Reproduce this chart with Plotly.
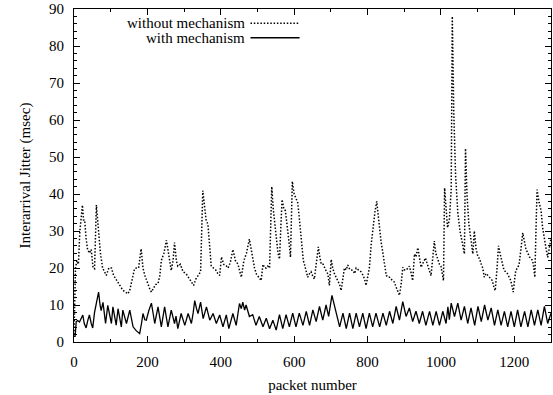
import plotly.graph_objects as go

# ---- data ----
without_x = [0, 4, 8, 12, 16, 20, 23, 26, 29, 33, 37, 42, 47, 52, 56, 61, 66, 72, 78, 84, 88, 95, 102, 108, 114, 120, 126, 133, 140, 147, 152, 158, 165, 170, 176, 183, 188, 193, 200, 206, 211, 216, 222, 229, 234, 238, 245, 252, 258, 265, 270, 274, 279, 283, 290, 297, 306, 312, 319, 326, 332, 338, 345, 351, 356, 360, 365, 370, 374, 380, 386, 392, 397, 402, 408, 415, 420, 426, 433, 440, 447, 452, 456, 463, 470, 478, 483, 487, 492, 497, 503, 510, 515, 520, 524, 528, 533, 536, 539, 543, 547, 553, 556, 560, 563, 567, 572, 576, 579, 582, 586, 590, 595, 600, 605, 610, 614, 620, 625, 628, 633, 637, 642, 646, 650, 655, 660, 666, 670, 674, 679, 683, 688, 692, 696, 701, 705, 710, 715, 719, 724, 728, 733, 737, 742, 746, 752, 760, 765, 769, 775, 782, 788, 792, 796, 801, 805, 810, 816, 820, 825, 829, 832, 837, 841, 846, 851, 856, 860, 864, 869, 873, 878, 883, 887, 892, 896, 900, 905, 910, 914, 918, 923, 928, 932, 937, 941, 946, 952, 958, 963, 969, 973, 978, 982, 986, 991, 996, 1000, 1004, 1007, 1010, 1014, 1018, 1023, 1028, 1031, 1035, 1040, 1046, 1052, 1058, 1064, 1067, 1071, 1076, 1082, 1087, 1091, 1096, 1101, 1105, 1110, 1114, 1118, 1123, 1128, 1132, 1140, 1144, 1148, 1153, 1157, 1160, 1163, 1168, 1172, 1177, 1181, 1186, 1190, 1194, 1197, 1201, 1204, 1209, 1213, 1218, 1223, 1228, 1232, 1237, 1241, 1246, 1250, 1253, 1256, 1259, 1262, 1267, 1273, 1277, 1282, 1287, 1291, 1296, 1300]
without_y = [2, 20, 22, 21, 30, 34, 37, 33, 33, 28, 25, 24, 25, 20, 19.8, 37, 30, 24, 20, 19, 18, 20, 20, 18, 17, 15.8, 15, 14, 13.5, 13, 14, 17, 19.8, 20, 20, 25.2, 20, 18, 16, 14.5, 13.5, 14.5, 15.5, 15.8, 18, 22, 24, 27.5, 23, 19.3, 22, 26.9, 22, 20.5, 21, 19, 18.4, 17.5, 16.5, 15.3, 17, 18, 19, 40.9, 36, 33, 31.8, 25, 20.6, 20, 19.5, 18.5, 18, 23, 21, 20.6, 20, 21.5, 25, 22, 21, 19, 17.5, 22, 24, 27.8, 25, 22.5, 20, 18.4, 17.5, 16.6, 21, 20, 20, 20.5, 20, 30, 42, 36, 32.7, 27, 24, 22.4, 30, 38.5, 36, 35.5, 33, 31, 27, 22.9, 43.4, 40, 39, 37.6, 33.5, 27, 22, 21, 19, 17.5, 18.5, 19, 18, 17, 21, 25.7, 23, 21, 21, 20, 19, 18.4, 15.3, 22.3, 20, 18.4, 17.5, 16.6, 15.5, 13.9, 17, 20, 19.5, 20.8, 19.5, 19.4, 18.5, 20, 19.5, 19, 18, 17, 15.3, 18, 20, 26.4, 31.8, 35, 38, 34, 30, 27, 24.6, 21, 18, 17.5, 17.5, 17, 16.5, 16.2, 14.8, 13.5, 12.6, 16, 20.2, 19.5, 19.4, 20, 20.5, 19, 16.6, 23.8, 23, 25.5, 23, 20.2, 21.5, 22.7, 21, 19, 17.9, 23, 27.3, 24, 22.3, 21, 20.5, 18.4, 16.6, 41.6, 35, 30.9, 33, 41.2, 88, 62, 45, 35, 30, 26.5, 23.8, 52.3, 40, 32, 27, 23.8, 30, 25, 23, 22.6, 21, 20, 17.5, 18.5, 18, 17.5, 16.6, 15, 13.9, 20, 26, 24.5, 22.9, 21, 19.4, 19, 18.5, 17.5, 16.7, 15, 13.5, 17, 19.4, 20, 21, 25, 29.5, 27, 25, 24, 23, 22.5, 22, 20, 17.5, 30, 41.2, 38, 35.5, 31, 27.3, 25, 22.9, 26, 28]

with_x = [0, 3, 6, 10, 15, 20, 24, 28, 33, 38, 42, 47, 51, 56, 61, 64, 67, 71, 74, 79, 83, 86, 92, 97, 102, 106, 111, 115, 120, 125, 129, 133, 138, 143, 152, 156, 161, 170, 179, 184, 188, 193, 197, 204, 211, 216, 220, 229, 238, 247, 256, 265, 274, 278, 283, 292, 302, 311, 320, 325, 329, 334, 338, 345, 352, 361, 370, 379, 388, 397, 406, 415, 422, 433, 438, 442, 451, 456, 460, 465, 469, 478, 487, 496, 505, 515, 524, 533, 542, 551, 560, 569, 578, 587, 596, 605, 614, 624, 633, 642, 651, 660, 669, 678, 687, 694, 703, 709, 714, 724, 733, 742, 751, 760, 769, 778, 787, 796, 805, 814, 823, 833, 842, 851, 860, 869, 878, 887, 896, 905, 914, 923, 932, 941, 950, 959, 969, 978, 987, 996, 1005, 1014, 1019, 1023, 1028, 1037, 1046, 1055, 1064, 1073, 1082, 1092, 1101, 1110, 1119, 1128, 1137, 1146, 1155, 1164, 1173, 1182, 1191, 1200, 1209, 1218, 1228, 1237, 1246, 1255, 1264, 1273, 1282, 1291, 1300]
with_y = [1.5, 1.5, 5.5, 5.8, 5.4, 6.5, 7.3, 5, 3.8, 6, 7.3, 5, 3.8, 8, 10.4, 12, 13.5, 10, 8.5, 10.7, 7, 5, 9.9, 7, 5, 9.5, 6.5, 4.55, 9.0, 6, 4.1, 8.6, 6.5, 5, 8.6, 6, 4.1, 3, 2.3, 5, 7.7, 6, 5.9, 8.5, 10.5, 7.5, 5, 9.5, 4.1, 9.5, 4.1, 8.6, 5, 7, 3.6, 7.7, 4.5, 7.7, 5, 8, 11.2, 9, 7.7, 10.8, 6.3, 9.5, 5.9, 7.7, 5, 7.3, 4.1, 7.3, 3.6, 7.7, 5.5, 4.5, 10.4, 9, 10.8, 8.6, 10, 6.9, 7.4, 4.5, 6.9, 4.1, 6.4, 3.6, 5.9, 3.2, 7.4, 3.6, 7.4, 4.1, 7.8, 4.1, 7.8, 4.5, 8.3, 4.5, 8.7, 5.5, 9.6, 5.9, 10, 6.9, 12.6, 10, 7.8, 4.1, 7.8, 3.6, 7.8, 3.6, 7.8, 4.1, 7.8, 3.6, 7.8, 4.1, 7.8, 4.1, 7.8, 4.5, 8.3, 5, 9.6, 5.9, 10.9, 6.9, 9.2, 5.5, 8.3, 5, 8.3, 4.5, 8.3, 4.5, 8.3, 4.5, 8.3, 5, 9.5, 6, 10.5, 6.9, 10.5, 5.9, 9.6, 5, 9.2, 4.5, 9.6, 5.5, 10, 5.9, 9.2, 4.5, 8.7, 4.5, 8.3, 4.1, 8.3, 4.1, 8.7, 4.1, 8.3, 4.1, 8.7, 4.5, 8.7, 4.5, 9.6, 5, 7.8]

series_names = ["without mechanism", "with mechanism"]
x_title = "packet number"
y_title = "Interarrival Jitter (msec)"

FONT = "Times New Roman"
DOT = "1.5px,1.8px"

fig = go.Figure()
fig.add_trace(go.Scatter(x=without_x, y=without_y, mode="lines", name=series_names[0],
                         line=dict(color="black", width=1.5, dash=DOT), showlegend=False))
fig.add_trace(go.Scatter(x=with_x, y=with_y, mode="lines", name=series_names[1],
                         line=dict(color="black", width=1.3), showlegend=False))

axis_common = dict(showline=True, linecolor="black", linewidth=1, mirror="ticks",
                   ticks="inside", ticklen=6, tickwidth=1, tickcolor="black",
                   showgrid=False, zeroline=False, ticklabeloverflow="allow",
                   tickfont=dict(family=FONT, size=15, color="black"))

fig.update_xaxes(range=[0, 1300], dtick=200, tick0=0,
                 minor=dict(ticks="inside", ticklen=3, dtick=100, tickcolor="black", showgrid=False),
                 title=dict(text=x_title, font=dict(family=FONT, size=15, color="black"), standoff=10),
                 ticklabelstandoff=6, **axis_common)
fig.update_yaxes(range=[0, 90], dtick=10, tick0=0,
                 minor=dict(ticks="inside", ticklen=3, dtick=2, tickcolor="black", showgrid=False),
                 title=dict(text=y_title, font=dict(family=FONT, size=15, color="black"), standoff=14),
                 ticklabelstandoff=6, **axis_common)

# legend drawn gnuplot-style: right-aligned text with sample line on the right
leg_rows = [(0.957, DOT, 1.5), (0.9137, "solid", 1.3)]
for (yy, dash, w), name in zip(leg_rows, series_names):
    fig.add_annotation(x=0.362, y=yy, xref="paper", yref="paper", text=name, showarrow=False,
                       xanchor="right", yanchor="middle",
                       font=dict(family=FONT, size=15, color="black"))
    fig.add_shape(type="line", xref="paper", yref="paper", x0=0.370, x1=0.473, y0=yy, y1=yy,
                  line=dict(color="black", width=w, dash=dash))

fig.update_layout(width=553, height=395, margin=dict(l=74, r=1, t=6, b=53),
                  plot_bgcolor="white", paper_bgcolor="white",
                  font=dict(family=FONT, color="black"))

fig.write_html("out.html")
